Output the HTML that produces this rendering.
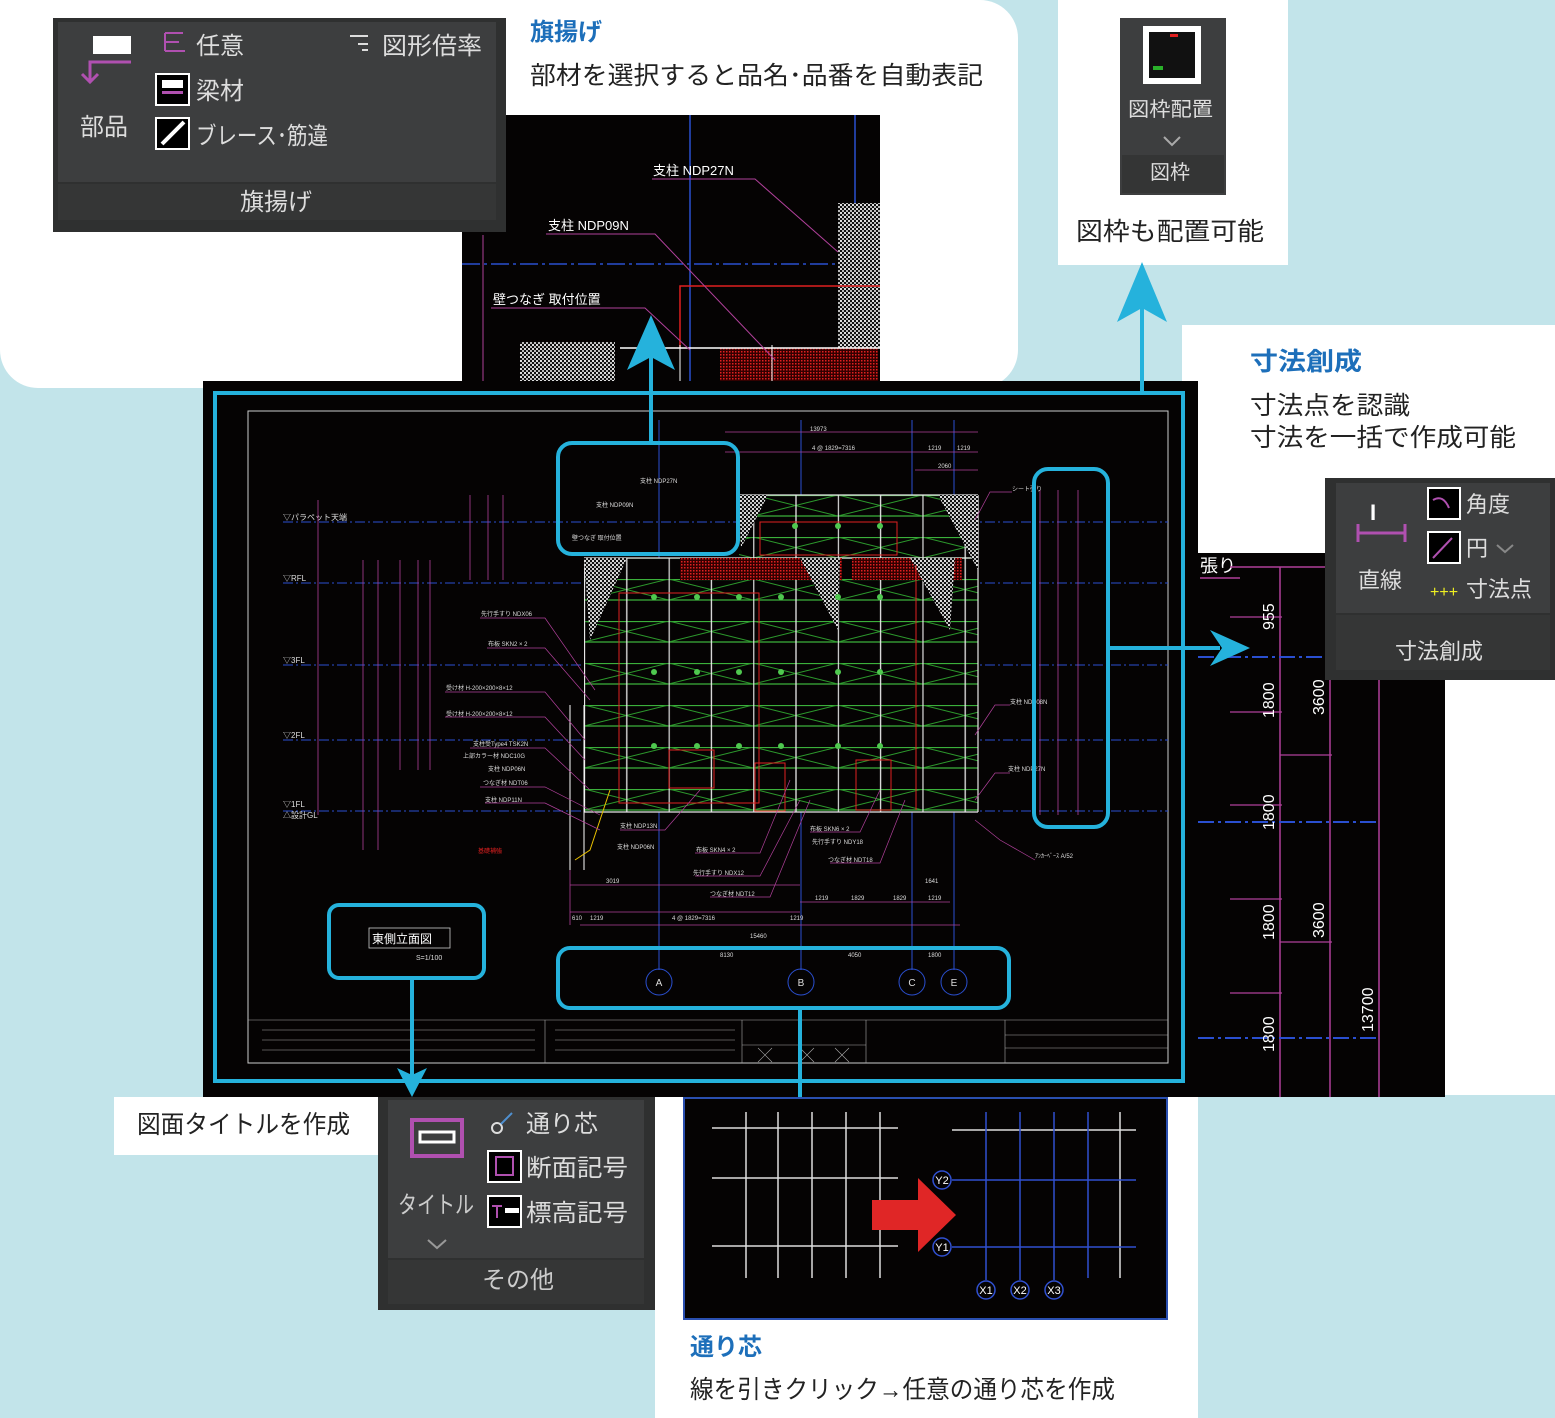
<!DOCTYPE html>
<html><head><meta charset="utf-8"><style>
html,body{margin:0;padding:0;background:#c2e4ea;}
svg{display:block}
text{font-family:"Liberation Sans","Noto Sans CJK JP",sans-serif;}
</style></head><body>
<svg width="1555" height="1418" viewBox="0 0 1555 1418" xmlns="http://www.w3.org/2000/svg">
<defs>
<pattern id="scaf" x="584" y="495" width="84.6" height="42" patternUnits="userSpaceOnUse">
<rect width="84.6" height="42" fill="#050303"/>
<line x1="0" y1="0.5" x2="84.6" y2="0.5" stroke="#3bb03b" stroke-width="1.2"/>
<line x1="0" y1="21" x2="84.6" y2="21" stroke="#3bb03b" stroke-width="1.2"/>
<line x1="0" y1="0" x2="84.6" y2="21" stroke="#2c9a2c" stroke-width="1"/>
<line x1="0" y1="21" x2="84.6" y2="0" stroke="#2c9a2c" stroke-width="1"/>
<line x1="0.5" y1="0" x2="0.5" y2="42" stroke="#e8e8e8" stroke-width="1.3"/>
<line x1="42.8" y1="0" x2="42.8" y2="42" stroke="#e8e8e8" stroke-width="1.3"/>
</pattern>
<pattern id="hatch" width="4" height="4" patternUnits="userSpaceOnUse">
<rect width="4" height="4" fill="#111"/><rect width="2" height="2" fill="#ddd"/><rect x="2" y="2" width="2" height="2" fill="#bbb"/>
</pattern>
<pattern id="rhatch" width="3" height="3" patternUnits="userSpaceOnUse">
<rect width="3" height="3" fill="#300"/><rect width="1.5" height="1.5" fill="#e02020"/>
</pattern>
</defs>

<rect x="0" y="0" width="1555" height="1418" rx="30" fill="#c2e4ea"/>
<rect x="0" y="0" width="1018" height="388" rx="38" fill="#fff"/>
<rect x="0" y="0" width="60" height="60" fill="#fff"/>
<rect x="1058" y="0" width="230" height="265" fill="#fff"/>
<rect x="1182" y="325" width="373" height="770" fill="#fff"/>
<rect x="114" y="1097" width="264" height="58" fill="#fff"/>
<rect x="655" y="1097" width="543" height="321" fill="#fff"/>

<text x="530" y="40" font-size="24" font-weight="bold" fill="#1d6fba">旗揚げ</text>
<text x="530" y="84" font-size="25" fill="#222" textLength="453" lengthAdjust="spacingAndGlyphs">部材を選択すると品名･品番を自動表記</text>

<rect x="462" y="115" width="418" height="266" fill="#050303"/>
<line x1="690" y1="115" x2="690" y2="381" stroke="#2a4fd0" stroke-width="1.5"/>
<line x1="855" y1="115" x2="855" y2="381" stroke="#2a4fd0" stroke-width="1.5"/>
<line x1="462" y1="264" x2="880" y2="264" stroke="#2a4fd0" stroke-width="1.5" stroke-dasharray="18 4 3 4"/>
<line x1="483" y1="235" x2="483" y2="381" stroke="#b0409a" stroke-width="1"/>
<rect x="838" y="203" width="42" height="145" fill="url(#hatch)"/>
<rect x="520" y="342" width="95" height="39" fill="url(#hatch)"/>
<rect x="720" y="348" width="158" height="33" fill="url(#rhatch)"/>
<polyline points="680,348 680,286 880,286" fill="none" stroke="#e02020" stroke-width="1.5"/>
<line x1="620" y1="348" x2="880" y2="348" stroke="#fff" stroke-width="1.5"/>
<line x1="680" y1="345" x2="680" y2="381" stroke="#fff"/>
<line x1="772" y1="345" x2="772" y2="381" stroke="#fff"/>
<text x="653" y="175" font-size="13" fill="#fff">支柱 NDP27N</text>
<polyline points="652,179 755,179 838,252" fill="none" stroke="#b0409a"/>
<text x="548" y="230" font-size="13" fill="#fff">支柱 NDP09N</text>
<polyline points="546,234 655,234 775,360" fill="none" stroke="#b0409a"/>
<text x="493" y="304" font-size="13" fill="#fff">壁つなぎ 取付位置</text>
<polyline points="491,308 645,308 690,350" fill="none" stroke="#b0409a"/>

<rect x="53" y="18" width="453" height="214" fill="#2f3030"/>
<rect x="58" y="22" width="438" height="160" fill="#3d3e3f"/>
<rect x="58" y="184" width="438" height="36" fill="#353636"/>
<rect x="93" y="36" width="38" height="18" fill="#fff"/>
<polyline points="131,62 90,62 90,80" fill="none" stroke="#b050b0" stroke-width="3"/>
<polyline points="82,74 90,82 98,74" fill="none" stroke="#b050b0" stroke-width="3"/>
<text x="80" y="135" font-size="24" fill="#ddd">部品</text>
<path d="M165 33 h18 M165 33 v18 M165 42 h14 M165 51 h20" stroke="#b050b0" stroke-width="2" fill="none"/>
<text x="196" y="54" font-size="24" fill="#ddd">任意</text>
<path d="M350 36 h18 M358 44 h10 M362 50 h6" stroke="#ddd" stroke-width="2" fill="none"/>
<text x="382" y="54" font-size="24" fill="#ddd" textLength="100" lengthAdjust="spacingAndGlyphs">図形倍率</text>
<rect x="156" y="74" width="33" height="31" fill="#000" stroke="#fff" stroke-width="2"/>
<rect x="162" y="80" width="21" height="8" fill="#fff"/><rect x="162" y="91" width="21" height="3" fill="#b050b0"/>
<text x="196" y="99" font-size="24" fill="#ddd">梁材</text>
<rect x="156" y="118" width="33" height="31" fill="#000" stroke="#fff" stroke-width="2"/>
<line x1="162" y1="144" x2="184" y2="122" stroke="#fff" stroke-width="4"/>
<text x="196" y="144" font-size="24" fill="#ddd" textLength="132" lengthAdjust="spacingAndGlyphs">ブレース･筋違</text>
<text x="240" y="210" font-size="24" fill="#ddd">旗揚げ</text>

<rect x="1120" y="18" width="106" height="177" fill="#3d3e3f"/>
<rect x="1122" y="155" width="102" height="38" fill="#343535"/>
<rect x="1143" y="26" width="58" height="58" fill="#fff"/>
<rect x="1149" y="32" width="46" height="46" fill="#111"/>
<rect x="1153" y="66" width="10" height="4" fill="#2ab02a"/><rect x="1170" y="34" width="8" height="3" fill="#e02020"/>
<text x="1128" y="116" font-size="20" fill="#ddd" textLength="85" lengthAdjust="spacingAndGlyphs">図枠配置</text>
<polyline points="1164,137 1172,145 1180,137" fill="none" stroke="#aaa" stroke-width="2"/>
<text x="1150" y="179" font-size="20" fill="#ddd">図枠</text>
<text x="1076" y="240" font-size="25" fill="#222" textLength="188" lengthAdjust="spacingAndGlyphs">図枠も配置可能</text>

<text x="1250" y="370" font-size="25" font-weight="bold" fill="#1d6fba" textLength="112" lengthAdjust="spacingAndGlyphs">寸法創成</text>
<text x="1250" y="414" font-size="25" fill="#222" textLength="160" lengthAdjust="spacingAndGlyphs">寸法点を認識</text>
<text x="1250" y="446" font-size="25" fill="#222" textLength="266" lengthAdjust="spacingAndGlyphs">寸法を一括で作成可能</text>

<rect x="1198" y="553" width="247" height="544" fill="#050303"/>
<text x="1200" y="572" font-size="18" fill="#fff">張り</text>
<line x1="1200" y1="578" x2="1240" y2="578" stroke="#b0409a" stroke-width="1.5"/>
<line x1="1230" y1="567" x2="1330" y2="567" stroke="#b0409a" stroke-width="1.5"/>
<line x1="1280" y1="567" x2="1280" y2="1097" stroke="#b0409a" stroke-width="1.5"/>
<line x1="1330" y1="640" x2="1330" y2="1097" stroke="#b0409a" stroke-width="1.5"/>
<line x1="1379" y1="640" x2="1379" y2="1097" stroke="#b0409a" stroke-width="1.5"/>
<g stroke="#b0409a" stroke-width="1.2">
<line x1="1230" y1="617" x2="1282" y2="617"/><line x1="1230" y1="712" x2="1282" y2="712"/><line x1="1280" y1="755" x2="1332" y2="755"/>
<line x1="1230" y1="805" x2="1282" y2="805"/><line x1="1230" y1="899" x2="1282" y2="899"/><line x1="1280" y1="942" x2="1332" y2="942"/><line x1="1230" y1="993" x2="1282" y2="993"/>
</g>
<g stroke="#2a4fd0" stroke-width="2" stroke-dasharray="16 4 3 4">
<line x1="1198" y1="657" x2="1325" y2="657"/><line x1="1198" y1="822" x2="1379" y2="822"/><line x1="1198" y1="1038" x2="1379" y2="1038"/>
</g>
<g font-size="16" fill="#fff">
<text transform="translate(1274,630) rotate(-90)">955</text>
<text transform="translate(1274,718) rotate(-90)">1800</text>
<text transform="translate(1274,830) rotate(-90)">1800</text>
<text transform="translate(1274,940) rotate(-90)">1800</text>
<text transform="translate(1274,1052) rotate(-90)">1800</text>
<text transform="translate(1324,715) rotate(-90)">3600</text>
<text transform="translate(1324,938) rotate(-90)">3600</text>
<text transform="translate(1373,1032) rotate(-90)">13700</text>
</g>

<rect x="1325" y="478" width="230" height="202" fill="#2f3030"/>
<rect x="1336" y="483" width="214" height="130" fill="#3d3e3f"/>
<rect x="1336" y="615" width="214" height="55" fill="#353636"/>
<text x="1370" y="520" font-size="22" font-weight="bold" fill="#fff">I</text>
<path d="M1358 524 v18 M1405 524 v18 M1358 533 h47" stroke="#b050b0" stroke-width="3" fill="none"/>
<text x="1358" y="588" font-size="22" fill="#ddd">直線</text>
<rect x="1428" y="488" width="32" height="31" fill="#000" stroke="#fff" stroke-width="2"/>
<path d="M1433 500 q10 -6 16 8" stroke="#b050b0" stroke-width="2" fill="none"/>
<text x="1466" y="512" font-size="22" fill="#ddd">角度</text>
<rect x="1428" y="532" width="32" height="31" fill="#000" stroke="#fff" stroke-width="2"/>
<line x1="1433" y1="558" x2="1452" y2="538" stroke="#b050b0" stroke-width="2"/>
<text x="1466" y="556" font-size="22" fill="#ddd">円</text>
<polyline points="1497,545 1505,552 1513,545" fill="none" stroke="#888" stroke-width="2"/>
<text x="1430" y="597" font-size="16" fill="#ee2">+++</text>
<text x="1466" y="597" font-size="22" fill="#ddd">寸法点</text>
<text x="1395" y="659" font-size="22" fill="#ddd">寸法創成</text>

<rect x="203" y="381" width="995" height="716" fill="#050303"/>
<rect x="248" y="411" width="920" height="652" fill="none" stroke="#ccc" stroke-width="1"/>
<g stroke="#2a4fd0" stroke-width="1" stroke-dasharray="10 3 2 3">
<line x1="283" y1="522" x2="1168" y2="522"/><line x1="283" y1="583" x2="1168" y2="583"/>
<line x1="283" y1="665" x2="1168" y2="665"/><line x1="283" y1="740" x2="1168" y2="740"/>
<line x1="283" y1="811" x2="1168" y2="811"/>
</g>
<g stroke="#2a4fd0" stroke-width="1">
<line x1="659" y1="420" x2="659" y2="970"/><line x1="801" y1="420" x2="801" y2="970"/>
<line x1="912" y1="420" x2="912" y2="970"/><line x1="954" y1="420" x2="954" y2="970"/>
</g>
<g font-size="8" fill="#ddd">
<text x="283" y="520">▽パラペット天端</text><text x="283" y="581">▽RFL</text><text x="283" y="663">▽3FL</text>
<text x="283" y="738">▽2FL</text><text x="283" y="807">▽1FL</text><text x="283" y="818">△設計GL</text>
</g>
<g stroke="#b0409a" stroke-width="0.8">
<line x1="318" y1="500" x2="318" y2="815"/><line x1="363" y1="560" x2="363" y2="850"/>
<line x1="378" y1="560" x2="378" y2="850"/><line x1="400" y1="560" x2="400" y2="770"/>
<line x1="418" y1="560" x2="418" y2="770"/><line x1="430" y1="560" x2="430" y2="770"/>
<line x1="470" y1="495" x2="470" y2="580"/><line x1="488" y1="495" x2="488" y2="580"/><line x1="503" y1="495" x2="503" y2="580"/>
<line x1="570" y1="860" x2="570" y2="925"/><line x1="570" y1="885" x2="800" y2="885"/><line x1="570" y1="912" x2="800" y2="912"/>
<line x1="800" y1="902" x2="950" y2="902"/><line x1="725" y1="432" x2="978" y2="432"/><line x1="725" y1="452" x2="978" y2="452"/>
<line x1="915" y1="470" x2="978" y2="470"/><line x1="580" y1="925" x2="960" y2="925"/>
<line x1="1040" y1="490" x2="1040" y2="815"/><line x1="1058" y1="490" x2="1058" y2="815"/><line x1="1078" y1="490" x2="1078" y2="815"/>
</g>
<rect x="584" y="558" width="394" height="254" fill="url(#scaf)"/>
<rect x="739" y="495" width="239" height="63" fill="url(#scaf)"/>
<g stroke="#e8e8e8" stroke-width="1.2">
<line x1="584" y1="558" x2="978" y2="558"/><line x1="739" y1="495" x2="978" y2="495"/><line x1="978" y1="495" x2="978" y2="812"/>
<line x1="584" y1="812" x2="978" y2="812"/>
</g>
<rect x="680" y="558" width="162" height="22" fill="url(#rhatch)"/>
<rect x="852" y="558" width="110" height="22" fill="url(#rhatch)"/>
<polygon points="584,558 627,558 590,640" fill="url(#hatch)"/>
<polygon points="800,558 840,558 838,630" fill="url(#hatch)"/>
<polygon points="910,558 955,558 950,630" fill="url(#hatch)"/>
<polygon points="739,495 768,495 741,548" fill="url(#hatch)"/>
<polygon points="938,495 978,495 978,570" fill="url(#hatch)"/>
<g fill="none" stroke="#e02020" stroke-width="1">
<rect x="760" y="522" width="137" height="33"/><rect x="619" y="593" width="140" height="210"/>
<rect x="669" y="750" width="45" height="38"/><rect x="755" y="763" width="30" height="48"/><rect x="856" y="760" width="35" height="50"/>
<line x1="916" y1="565" x2="916" y2="810"/>
</g>
<g fill="#4fc84f">
<circle cx="654" cy="597" r="3"/><circle cx="697" cy="597" r="3"/><circle cx="739" cy="597" r="3"/><circle cx="781" cy="597" r="3"/><circle cx="838" cy="597" r="3"/><circle cx="880" cy="597" r="3"/>
<circle cx="654" cy="672" r="3"/><circle cx="697" cy="672" r="3"/><circle cx="739" cy="672" r="3"/><circle cx="781" cy="672" r="3"/><circle cx="838" cy="672" r="3"/><circle cx="880" cy="672" r="3"/>
<circle cx="654" cy="746" r="3"/><circle cx="697" cy="746" r="3"/><circle cx="739" cy="746" r="3"/><circle cx="781" cy="746" r="3"/><circle cx="838" cy="746" r="3"/><circle cx="880" cy="746" r="3"/>
<circle cx="795" cy="526" r="3"/><circle cx="838" cy="526" r="3"/><circle cx="880" cy="526" r="3"/>
</g>
<line x1="570" y1="705" x2="570" y2="870" stroke="#fff"/><line x1="584" y1="705" x2="584" y2="870" stroke="#fff"/>
<polyline points="610,790 590,850 575,860" fill="none" stroke="#e8c000"/>
<g stroke="#b0409a" stroke-width="0.7" fill="none">
<polyline points="480,618 545,618 595,690"/><polyline points="487,648 545,648 590,700"/><polyline points="445,692 545,692 585,740"/>
<polyline points="445,717 545,717 585,760"/><polyline points="470,748 545,748 590,790"/><polyline points="480,787 545,787 600,815"/>
<polyline points="485,803 545,803 600,830"/><polyline points="620,830 665,830 700,790"/><polyline points="695,853 760,853 790,780"/>
<polyline points="695,876 760,876 800,800"/><polyline points="710,897 770,897 810,800"/><polyline points="810,832 860,832 880,790"/>
<polyline points="830,863 880,863 905,800"/><polyline points="1010,705 995,705 975,735"/><polyline points="1010,773 995,773 975,800"/>
<polyline points="1012,492 990,492 975,520"/><polyline points="1035,860 1000,840 975,820"/>
</g>
<g font-size="6" fill="#ddd">
<text x="481" y="616">先行手すり NDX06</text><text x="488" y="646">布板 SKN2 × 2</text><text x="446" y="690">受け材 H-200×200×8×12</text>
<text x="446" y="716">受け材 H-200×200×8×12</text><text x="473" y="746">支柱受Type4 TSK2N</text><text x="463" y="758">上部カラー材 NDC10G</text>
<text x="488" y="771">支柱 NDP06N</text><text x="483" y="785">つなぎ材 NDT06</text><text x="485" y="802">支柱 NDP11N</text>
<text x="620" y="828">支柱 NDP13N</text><text x="617" y="849">支柱 NDP06N</text><text x="696" y="852">布板 SKN4 × 2</text>
<text x="693" y="875">先行手すり NDX12</text><text x="710" y="896">つなぎ材 NDT12</text><text x="810" y="831">布板 SKN6 × 2</text>
<text x="812" y="844">先行手すり NDY18</text><text x="828" y="862">つなぎ材 NDT18</text><text x="1010" y="704">支柱 NDP08N</text>
<text x="1008" y="771">支柱 NDP27N</text><text x="1012" y="491">シート張り</text><text x="1035" y="858">ｱﾝｶｰﾍﾞｰｽ A/52</text>
<text x="810" y="431">13973</text><text x="812" y="450">4 @ 1829=7316</text><text x="928" y="450">1219</text><text x="957" y="450">1219</text><text x="938" y="468">2060</text>
<text x="606" y="883">3019</text><text x="572" y="920">610</text><text x="590" y="920">1219</text><text x="672" y="920">4 @ 1829=7316</text><text x="790" y="920">1219</text><text x="750" y="938">15460</text>
<text x="815" y="900">1219</text><text x="851" y="900">1829</text><text x="893" y="900">1829</text><text x="928" y="900">1219</text><text x="925" y="883">1641</text>
<text x="720" y="957">8130</text><text x="848" y="957">4050</text><text x="928" y="957">1800</text>
<text x="640" y="483">支柱 NDP27N</text><text x="596" y="507">支柱 NDP09N</text><text x="572" y="540">壁つなぎ 取付位置</text>
</g>
<text x="478" y="853" font-size="6" fill="#e02020">基礎補強</text>
<g fill="none" stroke="#2a4fd0" stroke-width="1">
<circle cx="659" cy="982" r="13"/><circle cx="801" cy="982" r="13"/><circle cx="912" cy="982" r="13"/><circle cx="954" cy="982" r="13"/>
</g>
<g font-size="10" fill="#ddd" text-anchor="middle">
<text x="659" y="986">A</text><text x="801" y="986">B</text><text x="912" y="986">C</text><text x="954" y="986">E</text>
</g>
<rect x="369" y="928" width="81" height="20" fill="none" stroke="#ccc" stroke-width="0.8"/>
<text x="372" y="943" font-size="12" fill="#fff">東側立面図</text>
<text x="416" y="960" font-size="7" fill="#ddd">S=1/100</text>
<g stroke="#aaa" stroke-width="0.6" fill="none">
<line x1="248" y1="1020" x2="1168" y2="1020"/>
<line x1="545" y1="1020" x2="545" y2="1063"/><line x1="742" y1="1020" x2="742" y2="1063"/>
<line x1="866" y1="1020" x2="866" y2="1063"/><line x1="1005" y1="1020" x2="1005" y2="1063"/>
<line x1="262" y1="1030" x2="535" y2="1030"/><line x1="262" y1="1040" x2="535" y2="1040"/><line x1="262" y1="1050" x2="535" y2="1050"/>
<line x1="555" y1="1030" x2="735" y2="1030"/><line x1="555" y1="1040" x2="735" y2="1040"/><line x1="555" y1="1050" x2="735" y2="1050"/>
<line x1="742" y1="1045" x2="866" y2="1045"/><line x1="1005" y1="1035" x2="1168" y2="1035"/><line x1="1005" y1="1048" x2="1168" y2="1048"/>
<path d="M758 1048 l14 14 M772 1048 l-14 14 M800 1048 l14 14 M814 1048 l-14 14 M835 1048 l14 14 M849 1048 l-14 14"/>
</g>
<g fill="none" stroke="#25b2dc" stroke-width="4">
<rect x="215" y="393" width="968" height="688"/>
<rect x="558" y="443" width="180" height="111" rx="14"/>
<rect x="1034" y="469" width="74" height="358" rx="14"/>
<rect x="329" y="905" width="155" height="73" rx="10"/>
<rect x="558" y="948" width="451" height="60" rx="12"/>
<line x1="651" y1="443" x2="651" y2="350"/>
<line x1="1142" y1="393" x2="1142" y2="300"/>
<line x1="1108" y1="648" x2="1220" y2="648"/>
<line x1="412" y1="978" x2="412" y2="1075"/>
<line x1="800" y1="1008" x2="800" y2="1105"/>
</g>
<g fill="#25b2dc">
<polygon points="651,315 627,370 651,357 675,370"/>
<polygon points="1142,262 1117,322 1142,308 1167,322"/>
<polygon points="1250,648 1210,630 1222,648 1210,666"/>
<polygon points="412,1097 397,1068 412,1075 427,1068"/>
<polygon points="800,1128 784,1098 800,1105 816,1098"/>
</g>

<text x="137" y="1133" font-size="25" fill="#222" textLength="213" lengthAdjust="spacingAndGlyphs">図面タイトルを作成</text>
<rect x="378" y="1097" width="277" height="213" fill="#2f3030"/>
<rect x="388" y="1100" width="256" height="158" fill="#3d3e3f"/>
<rect x="388" y="1260" width="256" height="44" fill="#353636"/>
<rect x="412" y="1120" width="50" height="36" fill="none" stroke="#b050b0" stroke-width="4"/>
<rect x="420" y="1132" width="34" height="10" fill="none" stroke="#fff" stroke-width="3"/>
<text x="398" y="1213" font-size="24" fill="#ccc" textLength="76" lengthAdjust="spacingAndGlyphs">タイトル</text>
<polyline points="428,1240 437,1248 446,1240" fill="none" stroke="#999" stroke-width="2"/>
<circle cx="497" cy="1128" r="5" fill="none" stroke="#ddd" stroke-width="2"/><line x1="501" y1="1124" x2="512" y2="1113" stroke="#5090d0" stroke-width="2"/>
<text x="526" y="1132" font-size="24" fill="#ddd">通り芯</text>
<rect x="488" y="1151" width="33" height="31" fill="#000" stroke="#fff" stroke-width="2"/>
<rect x="496" y="1157" width="17" height="18" fill="none" stroke="#b050b0" stroke-width="2"/>
<text x="526" y="1176" font-size="24" fill="#ddd" textLength="102" lengthAdjust="spacingAndGlyphs">断面記号</text>
<rect x="488" y="1196" width="33" height="31" fill="#000" stroke="#fff" stroke-width="2"/>
<rect x="505" y="1208" width="14" height="5" fill="#fff"/><path d="M492 1206 h10 M497 1206 v12" stroke="#b050b0" stroke-width="2"/>
<text x="526" y="1221" font-size="24" fill="#ddd" textLength="102" lengthAdjust="spacingAndGlyphs">標高記号</text>
<text x="482" y="1288" font-size="24" fill="#ccc">その他</text>

<rect x="684" y="1098" width="483" height="221" fill="#050303" stroke="#2a4fb0" stroke-width="2"/>
<g stroke="#ddd" stroke-width="1.5">
<line x1="712" y1="1128" x2="898" y2="1128"/><line x1="712" y1="1178" x2="898" y2="1178"/><line x1="712" y1="1246" x2="898" y2="1246"/>
<line x1="746" y1="1112" x2="746" y2="1278"/><line x1="778" y1="1112" x2="778" y2="1278"/><line x1="812" y1="1112" x2="812" y2="1278"/><line x1="846" y1="1112" x2="846" y2="1278"/><line x1="880" y1="1112" x2="880" y2="1278"/>
<line x1="952" y1="1130" x2="1136" y2="1130"/><line x1="1120" y1="1112" x2="1120" y2="1278"/>
</g>
<g stroke="#3050d0" stroke-width="1.5">
<line x1="952" y1="1180" x2="1136" y2="1180"/><line x1="952" y1="1247" x2="1136" y2="1247"/>
<line x1="986" y1="1112" x2="986" y2="1280"/><line x1="1020" y1="1112" x2="1020" y2="1280"/><line x1="1054" y1="1112" x2="1054" y2="1280"/><line x1="1088" y1="1112" x2="1088" y2="1278"/>
</g>
<g fill="#050303" stroke="#3050d0" stroke-width="1.5">
<circle cx="942" cy="1180" r="9"/><circle cx="942" cy="1247" r="9"/><circle cx="986" cy="1290" r="9"/><circle cx="1020" cy="1290" r="9"/><circle cx="1054" cy="1290" r="9"/>
</g>
<g font-size="11" fill="#fff" text-anchor="middle">
<text x="942" y="1184">Y2</text><text x="942" y="1251">Y1</text><text x="986" y="1294">X1</text><text x="1020" y="1294">X2</text><text x="1054" y="1294">X3</text>
</g>
<polygon points="872,1200 918,1200 918,1178 956,1215 918,1252 918,1230 872,1230" fill="#e02626"/>
<text x="690" y="1355" font-size="24" font-weight="bold" fill="#1d6fba">通り芯</text>
<text x="690" y="1398" font-size="25" fill="#222" textLength="425" lengthAdjust="spacingAndGlyphs">線を引きクリック→任意の通り芯を作成</text>
</svg>
</body></html>
